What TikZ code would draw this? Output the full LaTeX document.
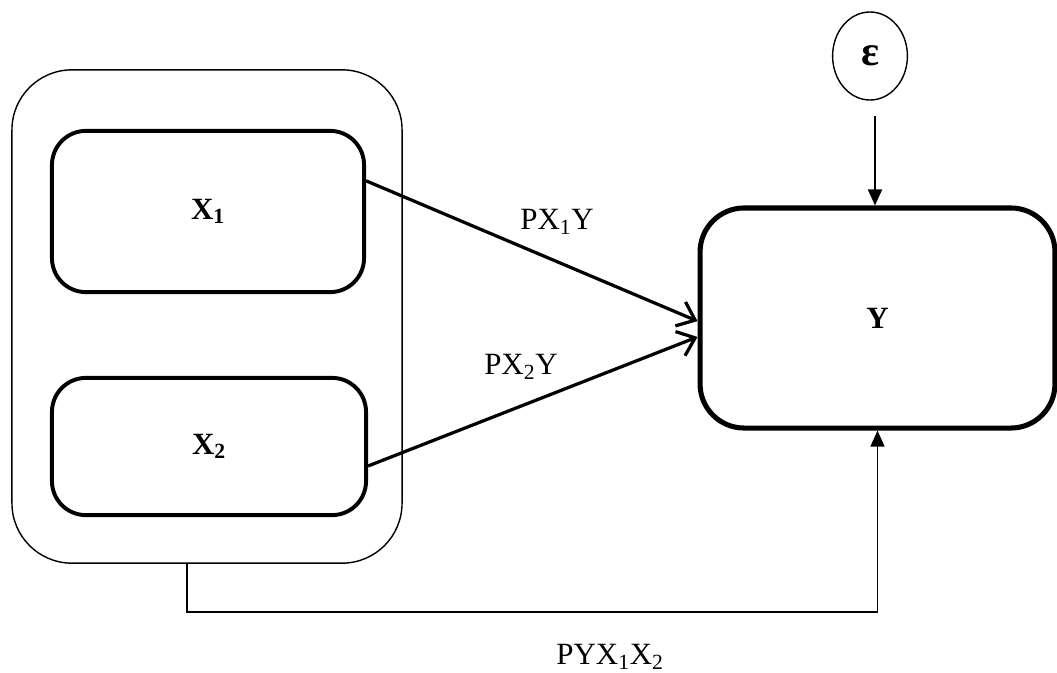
\documentclass[tikz,border=0pt]{standalone}
\usepackage{fontspec}
\setmainfont{Liberation Serif}
\usetikzlibrary{arrows.meta,shapes.geometric}
\begin{document}
\begin{tikzpicture}[x=0.025cm, y=-0.025cm,
	every node/.style={font=\fontsize{22}{26}\selectfont},
	varbox/.style={draw, line width=2.8pt, rounded corners=0.85cm},
	path/.style={line width=2.3pt, -{Straight Barb[length=4mm,width=6.5mm]}}]
			\useasboundingbox (0,0) rectangle (1057,672);
			\node[draw, line width=1pt, rounded corners=1.5cm, minimum width=9.75cm, minimum height=12.33cm] (G) at (207,316.5) {};
			\node[varbox, minimum width=7.8cm, minimum height=4.03cm] (X1) at (208,211.5) {\textbf{X\textsubscript{1}}};
			\node[varbox, minimum width=7.85cm, minimum height=3.43cm] (X2) at (209,446.5) {\textbf{X\textsubscript{2}}};
			\node[draw, line width=3.6pt, rounded corners=1.1cm, minimum width=8.87cm, minimum height=5.5cm] (Y) at (877.5,318) {\textbf{Y}};
			\node[draw, line width=1pt, ellipse, minimum width=1.87cm, minimum height=2.2cm, inner sep=0pt] (E) at (870,56) {\fontsize{30}{30}\selectfont\textbf{ε}};
			\coordinate (Ein) at (875,116);
			\coordinate (C) at (187,612);
			\node (L1) at (557,222) {PX\textsubscript{1}Y};
			\node (L2) at (521,367) {PX\textsubscript{2}Y};
			\node (L3) at (610,657) {PYX\textsubscript{1}X\textsubscript{2}};
			\draw[path] (X1.11) -- (Y.181);
			\draw[path] (X2.-7) -- (Y.186);
			\draw[line width=1.3pt, -{Triangle[length=4mm,width=3.5mm]}] (Ein) -- (Y.north -| Ein);
			\draw[line width=1pt, -{Triangle[length=4mm,width=3.5mm]}] (G.south -| C) -- (C) -| (Y.south);
		\end{tikzpicture}
\end{document}
